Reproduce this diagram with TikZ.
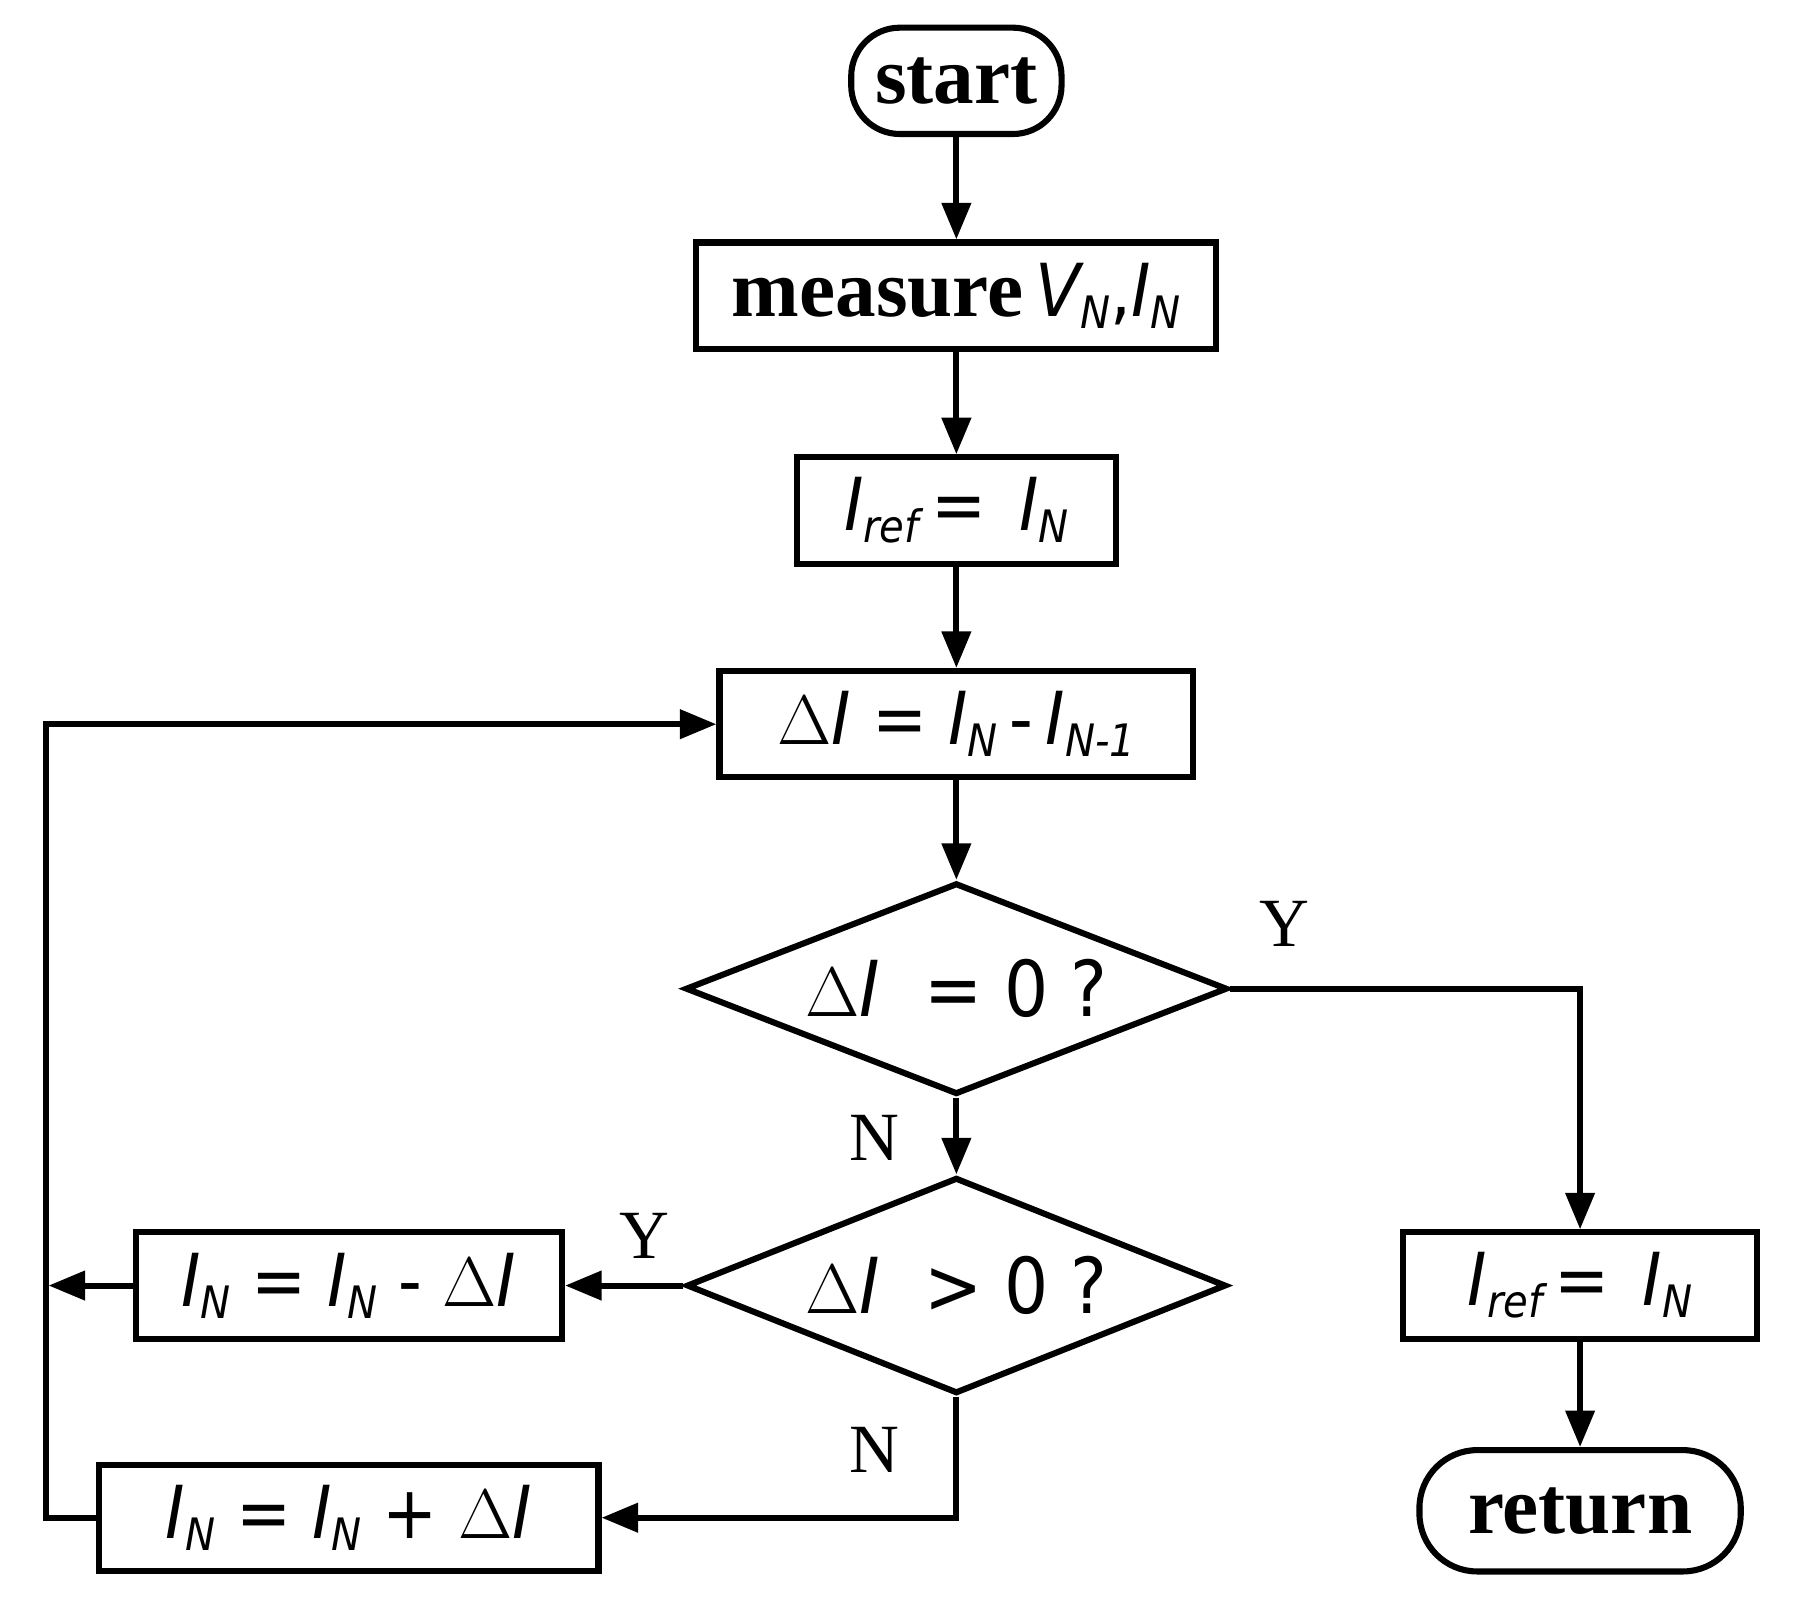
\documentclass[tikz,border=0pt]{standalone}
\usepackage{fontspec}
\setmainfont{Liberation Serif}
\newfontfamily\fml{DejaVu Sans Condensed}
\usetikzlibrary{shapes.geometric,arrows.meta}

\newcommand{\vI}{{\fml\itshape I}}
\newcommand{\sbs}[1]{\raisebox{-0.3ex}{\fontsize{11}{12}\selectfont\fml\itshape #1}}

\tikzset{
  block/.style={draw, line width=1.5pt, inner sep=0pt, minimum height=0.92cm,
    font=\fontsize{18}{20}\selectfont\fml},
  term/.style={draw, line width=1.5pt, rounded corners=0.42cm, inner sep=0pt,
    font=\fontsize{20}{22}\selectfont\bfseries},
  decide/.style={draw, diamond, aspect=2.56, line width=1.5pt, inner sep=-6pt,
    font=\fontsize{19}{21}\selectfont\fml},
  flow/.style={-{Triangle[length=9pt,width=7pt]}, line width=1.5pt},
  yn/.style={font=\fontsize{17}{19}\selectfont}
}

\begin{document}
\begin{tikzpicture}[x=0.01cm, y=-0.01cm]
  \useasboundingbox (0,0) rectangle (1561,1398);

  % Nodes
  \node[term, minimum width=1.82cm, minimum height=0.92cm] (start) at (828,70) {start};
  \node[block, minimum width=4.5cm] (meas) at (828,256)
    {{\fontsize{20}{22}\selectfont\rmfamily\bfseries measure}\,{\itshape V}\sbs{N},\vI\sbs{N}};
  \node[block, minimum width=2.76cm] (ref1) at (828,442) {\vI\sbs{ref}\,=\,\ \vI\sbs{N}};
  \node[block, minimum width=4.1cm] (diff) at (828,627)
    {$\Delta$\vI\ = \vI\sbs{N}\,-\,\vI\sbs{N-1}};
  \node[decide, minimum width=4.69cm, minimum height=1.83cm] (zero) at (828,856)
    {$\Delta$\vI\ \ = 0 ?};
  \node[decide, minimum width=4.67cm, minimum height=1.87cm] (pos) at (828,1113)
    {$\Delta$\vI\ \ > 0 ?};
  \node[block, minimum width=3.69cm] (dec) at (302,1113)
    {\vI\sbs{N} = \vI\sbs{N} - $\Delta$\vI};
  \node[block, minimum width=4.32cm] (inc) at (302,1314)
    {\vI\sbs{N} = \vI\sbs{N} + $\Delta$\vI};
  \node[block, minimum width=3.06cm] (ref2) at (1368,1113) {\vI\sbs{ref}\,=\,\ \vI\sbs{N}};
  \node[term, minimum width=2.78cm, minimum height=1.05cm, rounded corners=0.5cm] (ret) at (1368,1308) {return};

  \coordinate (loopB) at (40,1314);
  \coordinate (loopT) at (40,627);
  \coordinate (loopM) at (42,1113);
  \coordinate (yturn) at (1368,856);
  \coordinate (nturn) at (828,1314);

  % Connectors
  \draw[flow] (start) -- (meas);
  \draw[flow] (meas) -- (ref1);
  \draw[flow] (ref1) -- (diff);
  \draw[flow] (diff) -- (zero);
  \draw[flow] (zero) -- (pos);
  \draw[flow] (zero.east) -- (yturn) -- (ref2);
  \draw[flow] (ref2) -- (ret);
  \draw[flow] (pos.west) -- (dec);
  \draw[flow] (pos.south) -- (nturn) -- (inc);
  \draw[flow] (dec) -- (loopM);
  \draw[flow] (inc) -- (loopB) -- (loopT) -- (diff);

  % Labels
  \node[yn] (y1) at (1112,800) {Y};
  \node[yn] (n1) at (757,985) {N};
  \node[yn] (y2) at (558,1070) {Y};
  \node[yn] (n2) at (757,1255) {N};
\end{tikzpicture}
\end{document}
